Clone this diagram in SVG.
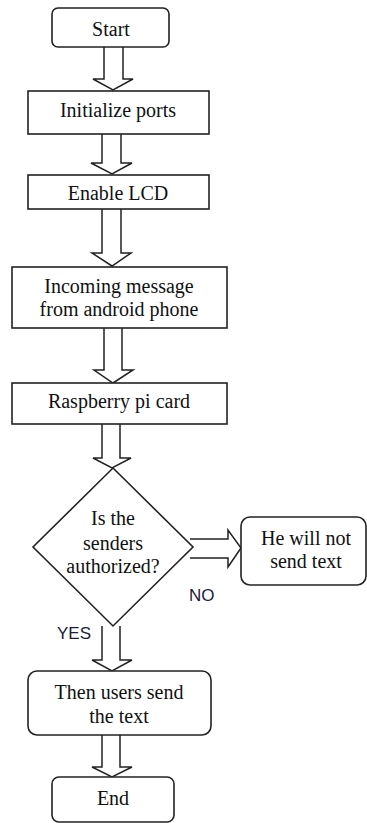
<svg xmlns="http://www.w3.org/2000/svg" width="367" height="823" viewBox="0 0 367 823">
<style>
.box{fill:#fff;stroke:#222;stroke-width:1.6}
.arr{fill:#fff;stroke:#222;stroke-width:1.5;stroke-linejoin:miter}
.t{font-family:"Liberation Serif","Times New Roman",serif;font-size:20px;fill:#111;text-anchor:middle}
.lbl{font-family:"Liberation Sans",Arial,sans-serif;font-size:17px;fill:#1c1c3a}
</style>
<rect width="367" height="823" fill="#fff"/>
<g id="connectors">
<path class="arr" d="M104,47 V79 H93 L113,90 L133,79 H123 V47"/>
<path class="arr" d="M102,134 V163 H91 L112,174 L132,163 H121 V134"/>
<path class="arr" d="M102,209 V253 H92 L112,266 L131,253 H121 V209"/>
<path class="arr" d="M104,328 V370 H94 L113,383 L133,370 H122 V328"/>
<path class="arr" d="M102,424 V458 H93 L112,468 L131,458 H120 V424"/>
<path class="arr" d="M190,539 H228 V530 L241,548 L228,567 V558 H190"/>
<path class="arr" d="M102,626 V660 H92 L112,671 L132,660 H120 V626"/>
<path class="arr" d="M102,735 V767 H92 L112,777 L132,767 H120 V735"/>
<text class="lbl" x="189" y="601">NO</text>
<text class="lbl" x="57" y="639">YES</text>
</g>
<g id="start">
<rect class="box" x="52" y="8" width="117" height="39" rx="6"/>
<text class="t" x="111" y="36">Start</text>
</g>
<g id="init">
<rect class="box" x="28" y="91" width="181" height="43"/>
<text class="t" x="118" y="117">Initialize ports</text>
</g>
<g id="lcd">
<rect class="box" x="28" y="175" width="181" height="34"/>
<text class="t" x="118" y="200">Enable LCD</text>
</g>
<g id="incoming">
<rect class="box" x="12" y="267" width="215" height="61"/>
<text class="t" x="119" y="293">Incoming message</text>
<text class="t" x="119" y="316">from android phone</text>
</g>
<g id="raspberry">
<rect class="box" x="12" y="383" width="215" height="41"/>
<text class="t" x="119" y="408">Raspberry pi card</text>
</g>
<g id="decision">
<polygon class="box" points="113,468 193,547 113,626 33,547"/>
<text class="t" x="113" y="525">Is the</text>
<text class="t" x="113" y="550">senders</text>
<text class="t" x="113" y="573">authorized?</text>
</g>
<g id="no-send">
<rect class="box" x="241" y="517" width="125" height="68" rx="9"/>
<text class="t" x="306" y="545">He will not</text>
<text class="t" x="306" y="568">send text</text>
</g>
<g id="send">
<rect class="box" x="28" y="671" width="183" height="64" rx="9"/>
<text class="t" x="119" y="699">Then users send</text>
<text class="t" x="119" y="723">the text</text>
</g>
<g id="end">
<rect class="box" x="52" y="777" width="122" height="45" rx="7"/>
<text class="t" x="113" y="805">End</text>
</g>
</svg>
